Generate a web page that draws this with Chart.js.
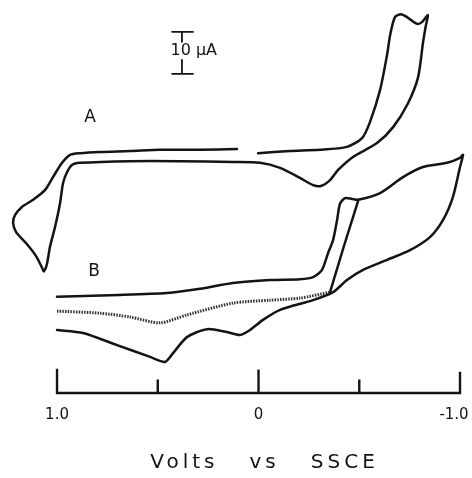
<!DOCTYPE html>
<html>
<head>
<meta charset="utf-8">
<script src="https://cdn.jsdelivr.net/npm/chart.js@4.4.0/dist/chart.umd.min.js"></script>
<style>
  html, body { margin: 0; padding: 0; background: #fff; }
  #cv { display: block; }
</style>
</head>
<body>
<canvas id="cv" width="472" height="478"></canvas>
<script>
// cyclic voltammograms, potential in V vs SSCE, current in uA (arbitrary offset)
const aVolts = [0.107, 0.290, 0.489, 0.638, 0.787, 0.886, 0.935, 0.975, 1.020, 1.060, 1.119, 1.174, 1.208, 1.218, 1.203, 1.154, 1.104, 1.074, 1.065, 1.050, 1.035, 1.010, 0.985, 0.970, 0.950, 0.926, 0.886, 0.638, 0.390, 0.127, -0.007, -0.107, -0.206, -0.271, -0.310, -0.355, -0.395, -0.469, -0.588, -0.668, -0.742, -0.792, -0.816, -0.831, -0.841, -0.811, -0.787, -0.737, -0.707, -0.677, -0.653, -0.638, -0.603, -0.553, -0.514, -0.439, -0.305, -0.156, 0.002];
const aCurrent = [58.1, 57.9, 57.9, 57.6, 57.4, 57.1, 56.7, 54.8, 51.4, 48.3, 46.0, 44.3, 42.4, 40.5, 38.3, 35.7, 32.6, 29.8, 29.0, 30.7, 34.8, 39.5, 45.2, 50.0, 52.6, 54.3, 54.8, 55.2, 55.2, 55.0, 54.8, 53.6, 51.2, 49.5, 49.3, 50.7, 53.1, 56.2, 59.5, 63.3, 69.0, 75.2, 83.3, 87.6, 90.0, 88.3, 87.9, 89.5, 90.2, 89.5, 85.2, 80.5, 72.1, 64.5, 60.7, 58.6, 57.9, 57.6, 57.1];

const bVolts = [1.0, 0.737, 0.454, 0.290, 0.127, -0.057, -0.206, -0.271, -0.315, -0.345, -0.370, -0.390, -0.404, -0.429, -0.464, -0.494, -0.603, -0.717, -0.816, -0.936, -1.0, -1.015, -1.0, -0.965, -0.916, -0.851, -0.752, -0.638, -0.519, -0.439, -0.370, -0.271, -0.107, -0.022, 0.042, 0.092, 0.156, 0.256, 0.355, 0.424, 0.464, 0.538, 0.702, 0.871, 1.0];
const bCurrent = [22.9, 23.3, 23.8, 24.8, 26.2, 26.9, 27.1, 27.6, 29.3, 33.3, 36.4, 41.2, 45.0, 46.4, 46.2, 46.0, 47.6, 51.4, 53.8, 54.8, 56.0, 56.7, 53.8, 46.7, 41.2, 37.1, 34.0, 31.7, 29.3, 26.9, 24.0, 22.1, 19.8, 17.4, 15.0, 13.8, 14.5, 15.2, 13.3, 9.5, 7.4, 8.6, 11.4, 14.3, 15.0];

const bDotVolts = [1.0, 0.787, 0.638, 0.489, 0.355, 0.127, -0.057, -0.206, -0.355];
const bDotCurrent = [19.5, 19.0, 18.1, 16.7, 18.6, 21.4, 22.1, 22.6, 24.0];

const bRiseVolts = [-0.355, -0.424, -0.494];
const bRiseCurrent = [24.0, 35.0, 45.7];

// 10 uA scale bar
const barVolts = [0.429, 0.325, null, 0.380, 0.380, null, 0.380, 0.380, null, 0.429, 0.325];
const barCurrent = [86.0, 86.0, null, 86.0, 83.6, null, 79.3, 76.0, null, 76.0, 76.0];

// potential axis
const axisTicks = [1.0, 0.5, 0, -0.5, -1.0];
const tickLengths = [5.5, 2.9, 5.3, 2.9, 4.8];
const tickLabels = ['1.0', '', '0', '', '-1.0'];
const axisTitle = 'Volts   vs   SSCE';

const ink = '#141414';

function pts(xs, ys) {
  return xs.map((v, i) => ({ x: v, y: ys[i] }));
}

const cvAxis = {
  id: 'cvAxis',
  afterDatasetsDraw(chart) {
    const ctx = chart.ctx;
    const x = chart.scales.x, y = chart.scales.y;
    const y0 = y.getPixelForValue(0);
    ctx.save();
    ctx.strokeStyle = ink;
    ctx.lineWidth = 2.4;
    ctx.lineCap = 'square';
    ctx.beginPath();
    ctx.moveTo(x.getPixelForValue(axisTicks[0]), y0);
    ctx.lineTo(x.getPixelForValue(axisTicks[axisTicks.length - 1]), y0);
    axisTicks.forEach((t, i) => {
      const px = x.getPixelForValue(t);
      ctx.moveTo(px, y0);
      ctx.lineTo(px, y.getPixelForValue(tickLengths[i]));
    });
    ctx.stroke();

    ctx.fillStyle = ink;
    ctx.textAlign = 'center';
    ctx.textBaseline = 'middle';
    ctx.font = '15px "DejaVu Sans"';
    axisTicks.forEach((t, i) => {
      if (tickLabels[i]) ctx.fillText(tickLabels[i], x.getPixelForValue(t) - (t < 0 ? 6 : 0), y.getPixelForValue(-5.3));
    });

    ctx.font = '20px "DejaVu Sans"';
    ctx.letterSpacing = '4px';
    ctx.fillText(axisTitle, x.getPixelForValue(-0.03), y.getPixelForValue(-16.6));
    ctx.letterSpacing = '0px';

    ctx.font = '17px "DejaVu Sans"';
    ctx.fillText('A', x.getPixelForValue(0.836), y.getPixelForValue(65.5));
    ctx.fillText('B', x.getPixelForValue(0.816), y.getPixelForValue(29.0));

    ctx.textAlign = 'left';
    ctx.font = '16px "DejaVu Sans"';
    ctx.fillText('10 \u00b5A', x.getPixelForValue(0.437), y.getPixelForValue(81.4));
    ctx.restore();
  }
};

const solid = { borderColor: ink, borderWidth: 2.5, pointRadius: 0, showLine: true, tension: 0.25, borderJoinStyle: 'round', borderCapStyle: 'round', clip: false };

new Chart(document.getElementById('cv'), {
  type: 'scatter',
  data: {
    datasets: [
      Object.assign({ data: pts(aVolts, aCurrent) }, solid),
      Object.assign({ data: pts(bVolts, bCurrent) }, solid),
      Object.assign({ data: pts(bRiseVolts, bRiseCurrent) }, solid, { tension: 0 }),
      Object.assign({ data: pts(bDotVolts, bDotCurrent) }, solid, { borderWidth: 3, borderDash: [1.5, 1.2], borderCapStyle: 'butt', borderColor: '#333' }),
      Object.assign({ data: pts(barVolts, barCurrent) }, solid, { tension: 0, borderWidth: 1.8, spanGaps: false })
    ]
  },
  options: {
    responsive: false,
    animation: false,
    layout: { padding: 0 },
    plugins: { legend: { display: false }, tooltip: { enabled: false } },
    scales: {
      x: { type: 'linear', reverse: true, min: -1.0595, max: 1.283, display: false },
      y: { type: 'linear', min: -20.24, max: 93.57, display: false }
    }
  },
  plugins: [cvAxis]
});
</script>
</body>
</html>
